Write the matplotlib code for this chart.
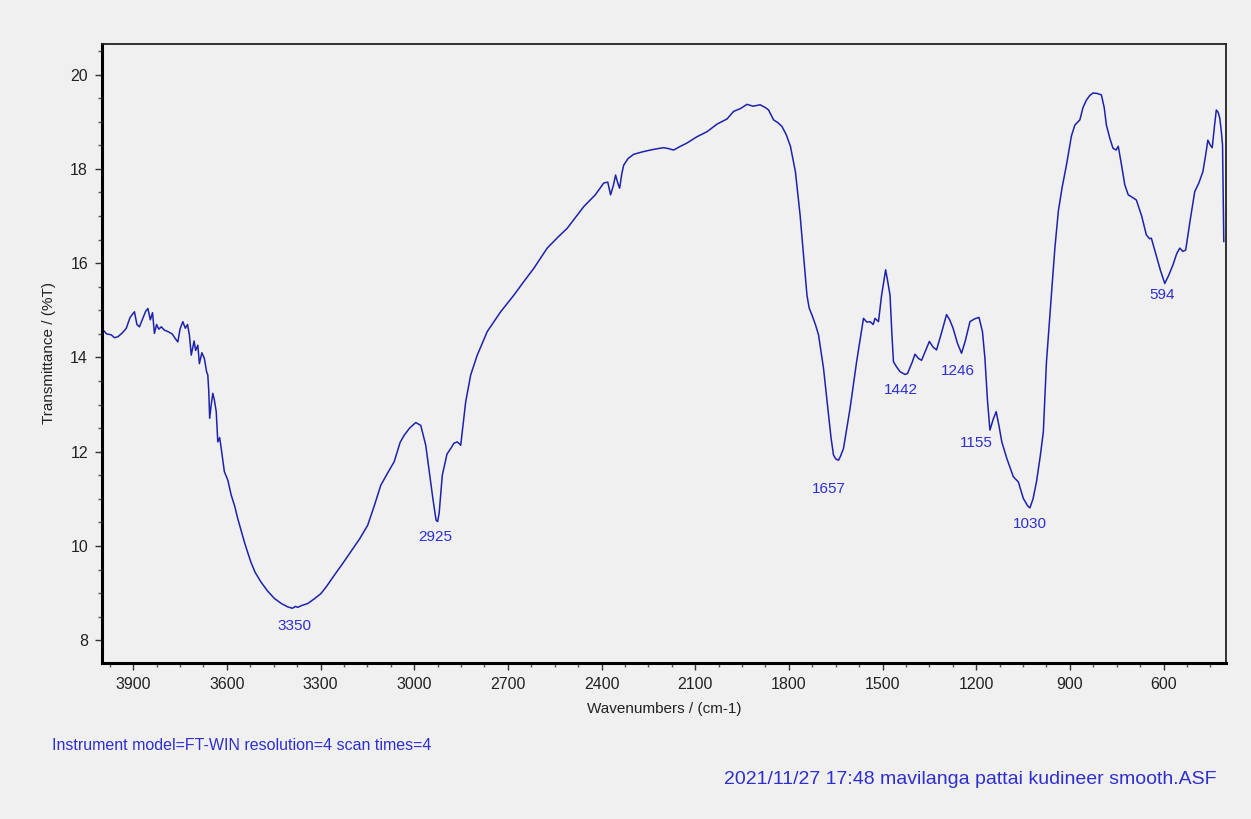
import matplotlib
matplotlib.use("agg")
import matplotlib.pyplot as plt
import matplotlib.ticker as ticker

plt.rcParams["font.family"] = ["Liberation Sans", "DejaVu Sans"]

# spectrum (wavenumber cm-1, %T)
wavenumbers = [
    3996, 3985, 3970, 3960, 3949, 3935, 3922, 3910, 3896, 3888, 3880, 3868, 3860, 3853,
    3845, 3838, 3832, 3825, 3818, 3810, 3800, 3789, 3775, 3765, 3757, 3750, 3741, 3733,
    3726, 3720, 3714, 3705, 3700, 3693, 3688, 3680, 3672, 3665, 3661, 3658, 3655, 3650,
    3645, 3640, 3634, 3629, 3623, 3618, 3608, 3597, 3586, 3575, 3565, 3555, 3544, 3535,
    3523, 3510, 3491, 3470, 3448, 3425, 3405, 3390, 3380, 3373, 3360, 3341, 3320, 3299,
    3280, 3256, 3230, 3203, 3175, 3149, 3128, 3107, 3085, 3064, 3045, 3032, 3015, 2995,
    2979, 2963, 2950, 2940, 2930, 2925, 2920, 2910, 2895, 2880, 2873, 2862, 2851, 2843,
    2835, 2819, 2798, 2766, 2723, 2681, 2650, 2617, 2574, 2540, 2510, 2480, 2457, 2420,
    2393, 2380, 2371, 2362, 2355, 2348, 2342, 2335, 2329, 2315, 2297, 2270, 2244, 2220,
    2201, 2185, 2169, 2150, 2126, 2095, 2062, 2030, 1998, 1977, 1955, 1934, 1915, 1892,
    1875, 1865, 1849, 1835, 1822, 1808, 1795, 1779, 1764, 1753, 1742, 1735, 1726, 1715,
    1705, 1689, 1673, 1665, 1657, 1650, 1641, 1635, 1625, 1604, 1583, 1561, 1550, 1540,
    1530, 1524, 1513, 1503, 1490, 1483, 1476, 1470, 1465, 1455, 1444, 1428, 1420, 1405,
    1396, 1385, 1375, 1362, 1350, 1338, 1327, 1310, 1295, 1285, 1274, 1260, 1247, 1235,
    1220, 1205, 1191, 1180, 1172, 1164, 1156, 1145, 1136, 1127, 1118, 1102, 1081, 1065,
    1049, 1035, 1028, 1018, 1007, 995, 985, 975, 964, 955, 948, 937, 925, 911,
    895, 884, 868, 858, 847, 836, 826, 812, 799, 790, 783, 772, 762, 752,
    745, 735, 724, 713, 703, 687, 670, 655, 645, 639, 625, 610, 596, 583,
    570, 558, 548, 538, 529, 515, 500, 487, 474, 465, 458, 450, 444, 437,
    431, 425, 420, 415, 411, 409, 407,
]
transmittance = [
    14.58, 14.50, 14.48, 14.42, 14.44, 14.52, 14.62, 14.85, 14.97, 14.70, 14.65, 14.85, 14.98, 15.04,
    14.80, 14.95, 14.51, 14.70, 14.60, 14.65, 14.58, 14.55, 14.50, 14.40, 14.33, 14.60, 14.76, 14.62,
    14.70, 14.48, 14.05, 14.35, 14.15, 14.26, 13.87, 14.10, 13.98, 13.70, 13.63, 13.30, 12.71, 13.00,
    13.24, 13.10, 12.85, 12.21, 12.30, 12.07, 11.58, 11.40, 11.08, 10.85, 10.58, 10.35, 10.09, 9.90,
    9.66, 9.45, 9.24, 9.05, 8.89, 8.78, 8.71, 8.68, 8.72, 8.70, 8.74, 8.78, 8.88, 8.99,
    9.15, 9.38, 9.62, 9.88, 10.15, 10.44, 10.85, 11.29, 11.55, 11.79, 12.20, 12.35, 12.50, 12.62,
    12.56, 12.14, 11.50, 11.00, 10.55, 10.52, 10.70, 11.50, 11.95, 12.10, 12.18, 12.21, 12.14, 12.60,
    13.06, 13.63, 14.05, 14.55, 14.97, 15.32, 15.60, 15.89, 16.32, 16.55, 16.74, 17.00, 17.20, 17.45,
    17.70, 17.72, 17.45, 17.65, 17.87, 17.70, 17.59, 17.90, 18.08, 18.22, 18.31, 18.36, 18.40, 18.43,
    18.45, 18.43, 18.40, 18.47, 18.55, 18.68, 18.79, 18.95, 19.06, 19.22, 19.28, 19.37, 19.33, 19.36,
    19.30, 19.25, 19.04, 18.98, 18.90, 18.72, 18.48, 17.94, 17.02, 16.17, 15.32, 15.05, 14.90, 14.70,
    14.48, 13.77, 12.78, 12.30, 11.93, 11.85, 11.82, 11.90, 12.07, 12.92, 13.91, 14.83, 14.75, 14.76,
    14.70, 14.83, 14.76, 15.32, 15.86, 15.60, 15.32, 14.50, 13.91, 13.80, 13.70, 13.64, 13.66, 13.90,
    14.07, 13.98, 13.94, 14.15, 14.34, 14.22, 14.16, 14.55, 14.91, 14.80, 14.62, 14.30, 14.09, 14.35,
    14.76, 14.82, 14.85, 14.55, 13.98, 13.10, 12.46, 12.70, 12.85, 12.55, 12.21, 11.86, 11.47, 11.36,
    11.01, 10.85, 10.81, 11.00, 11.36, 11.90, 12.42, 13.90, 14.90, 15.70, 16.32, 17.10, 17.60, 18.08,
    18.70, 18.93, 19.04, 19.30, 19.46, 19.56, 19.61, 19.60, 19.57, 19.30, 18.93, 18.65, 18.44, 18.40,
    18.48, 18.10, 17.66, 17.45, 17.41, 17.34, 17.00, 16.60, 16.52, 16.53, 16.20, 15.85, 15.57, 15.75,
    15.96, 16.20, 16.32, 16.25, 16.28, 16.90, 17.52, 17.70, 17.94, 18.30, 18.61, 18.50, 18.45, 18.90,
    19.25, 19.20, 19.08, 18.80, 18.51, 17.50, 16.46,
]

# peak labels: text, x (cm-1), y (%T) of the label centre
peak_labels = ["3350", "2925", "1657", "1442", "1246", "1155", "1030", "594"]
peak_label_x = [3385, 2931, 1671, 1441, 1259, 1201, 1028, 606]
peak_label_y = [8.31, 10.20, 11.20, 13.30, 13.72, 12.18, 10.46, 15.32]

bg = "#f0f0f0"
line_color = "#1e22aa"
text_blue = "#2f2fd0"

fig = plt.figure(figsize=(12.51, 8.19), dpi=100, facecolor=bg)
ax = fig.add_axes([0.0815, 0.1905, 0.8985, 0.7558], facecolor=bg)

ax.plot(wavenumbers, transmittance, color=line_color, linewidth=1.1)

for label, lx, ly in zip(peak_labels, peak_label_x, peak_label_y):
    ax.text(lx, ly, label, color=text_blue, fontsize=11, ha="center", va="center")

ax.set_xlim(4000, 400)
ax.set_ylim(7.52, 20.65)

ax.xaxis.set_major_locator(ticker.FixedLocator([3900, 3600, 3300, 3000, 2700, 2400, 2100, 1800, 1500, 1200, 900, 600]))
ax.xaxis.set_minor_locator(ticker.MultipleLocator(75))
ax.yaxis.set_major_locator(ticker.MultipleLocator(2))
ax.yaxis.set_minor_locator(ticker.MultipleLocator(0.5))
ax.tick_params(which="major", direction="out", length=5, width=1, colors="#333333",
               labelsize=11.5, labelcolor="#222222", pad=5)
ax.tick_params(which="minor", direction="out", length=3, width=1, colors="#555555")

for side in ["left", "bottom"]:
    ax.spines[side].set_linewidth(2.2)
    ax.spines[side].set_color("black")
for side in ["top", "right"]:
    ax.spines[side].set_linewidth(1.3)
    ax.spines[side].set_color("#222222")

ax.set_xlabel("Wavenumbers / (cm-1)", fontsize=11, color="#222222", labelpad=7)
ax.set_ylabel("Transmittance / (%T)", fontsize=11, color="#222222", labelpad=10)

fig.text(52 / 1251, 1 - 745 / 819, "Instrument model=FT-WIN resolution=4 scan times=4",
         color=text_blue, fontsize=11.5, ha="left", va="center")
fig.text(1216 / 1251, 1 - 779 / 819, "2021/11/27 17:48 mavilanga pattai kudineer smooth.ASF",
         color=text_blue, fontsize=14, ha="right", va="center")

fig.savefig("out.png", dpi=100, facecolor=bg)
